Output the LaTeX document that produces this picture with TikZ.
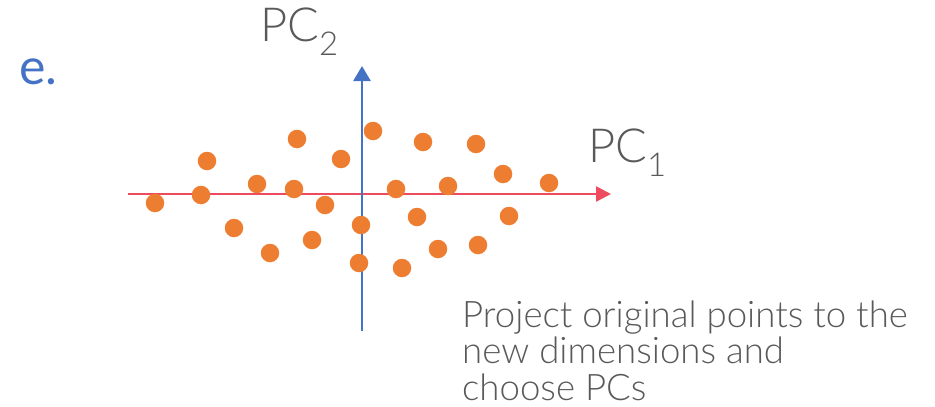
\documentclass[tikz,border=0pt]{standalone}
\usepackage{fontspec}
\setmainfont{Lato}[UprightFont=* Light]
\newfontfamily\latoreg{Lato}
\usetikzlibrary{arrows.meta}
\definecolor{dotorange}{HTML}{ED7D31}
\definecolor{axisred}{HTML}{EE4B5E}
\definecolor{axisblue}{HTML}{4472C4}
\definecolor{labelgrey}{HTML}{595959}
\tikzset{
  pt/.style={circle, fill=dotorange, inner sep=0pt, minimum size=18.5pt},
  axisline/.style={line width=2.6pt},
  lbl/.style={text=labelgrey, inner sep=0pt, anchor=base west, font=\fontsize{47}{56}\selectfont},
  note/.style={text=labelgrey, inner sep=0pt, anchor=base west, align=left,
    font=\fontsize{36.6}{36.6}\selectfont}
}
\begin{document}
\begin{tikzpicture}[x=1pt, y=-1pt]
  \useasboundingbox (0,0) rectangle (935,407);

  % axes
  \coordinate (xs) at (128,194);
  \coordinate (xe) at (611,194);
  \coordinate (ys) at (362,331);
  \coordinate (ye) at (362,66);
  \draw[axisline, axisred, -{Triangle[length=15pt, width=15pt]}] (xs) -- (xe);
  \draw[axisline, axisblue, -{Triangle[length=15pt, width=17pt]}] (ys) -- (ye);

  % projected data points
  \foreach \n/\x/\y in {
    p1/155/203, p2/207/161, p3/201/195, p4/297/139, p5/257/184,
    p6/294/189, p7/341/159, p8/325/205, p9/234/228, p10/312/240,
    p11/270/253, p12/361/225, p13/359/263, p14/373/131, p15/423/142,
    p16/476/144, p17/503/174, p18/549/183, p19/396/189, p20/448/186,
    p21/417/217, p22/509/216, p23/438/249, p24/478/245, p25/402/268}
    \node[pt] (\n) at (\x,\y) {};

  % labels
  \node[text=axisblue, inner sep=0pt, anchor=base west,
        font=\latoreg\fontsize{50}{60}\selectfont] (tag) at (19,84) {e.};
  \node[lbl] (pc2) at (260,41) {PC\textsubscript{2}};
  \node[lbl] (pc1) at (588,162) {PC\textsubscript{1}};
  % the base anchor of a multi-line node sits on its last line
  \node[note] (caption) at (462,400.5) {Project original points to the\\new dimensions and\\choose PCs};
\end{tikzpicture}
\end{document}
